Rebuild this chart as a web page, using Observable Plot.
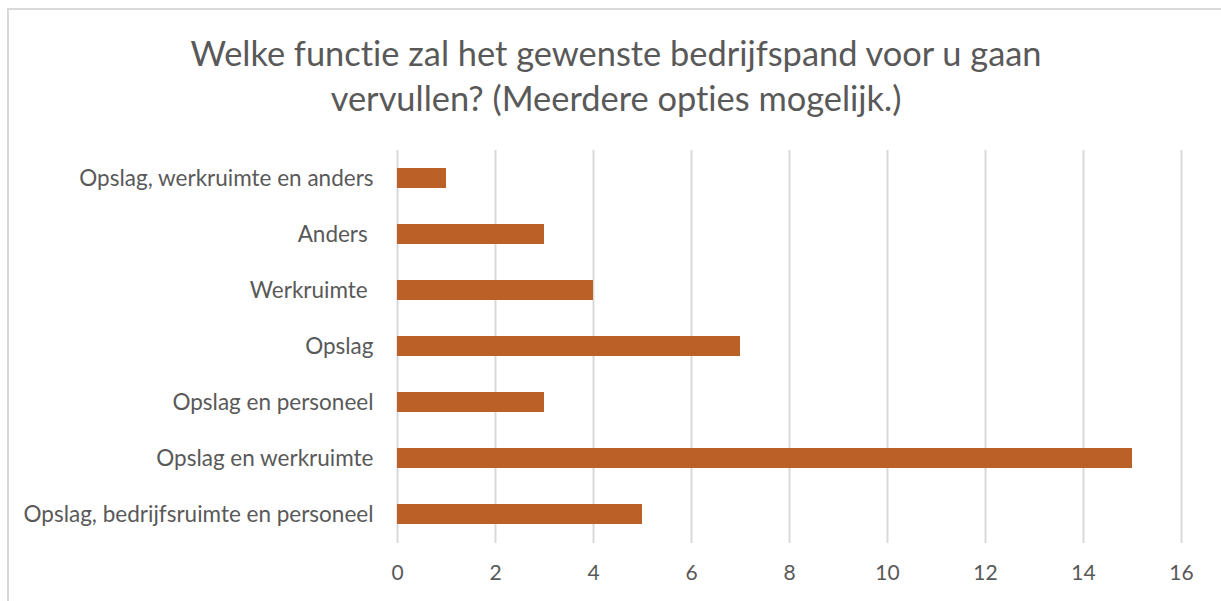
<!DOCTYPE html>
<html>
<head>
<meta charset="utf-8">
<script src="https://cdn.jsdelivr.net/npm/d3@7"></script>
<script src="https://cdn.jsdelivr.net/npm/@observablehq/plot@0.6"></script>
<style>
  html, body { margin: 0; padding: 0; background: #fff; width: 1221px; height: 601px; overflow: hidden; font-variant-ligatures: none; }
  #frame { position: absolute; left: 7px; top: 8px; width: 1240px; height: 640px; border: 2px solid #d9d9d9; box-sizing: border-box; }
  #title { position: absolute; left: 0; top: 30px; width: 1232px; text-align: center; font-family: Lato, "Open Sans", sans-serif; font-size: 34.4px; line-height: 45px; color: #595959; font-variant-ligatures: none; }
  #chart { position: absolute; left: 0; top: 130px; }
  #chart svg text { font-variant-ligatures: none; }
</style>
</head>
<body>
<div id="frame"></div>
<div id="title">Welke functie zal het gewenste bedrijfspand voor u gaan<br>vervullen? (Meerdere opties mogelijk.)</div>
<div id="chart"></div>
<script>
const categories = [
  "Opslag, werkruimte en anders",
  "Anders ",
  "Werkruimte ",
  "Opslag",
  "Opslag en personeel",
  "Opslag en werkruimte",
  "Opslag, bedrijfsruimte en personeel"
];
const values = [1, 3, 4, 7, 3, 15, 5];
const xTicks = [0, 2, 4, 6, 8, 10, 12, 14, 16];

const data = categories.map((c, i) => ({category: c, value: values[i]}));

const chart = Plot.plot({
  width: 1221,
  height: 471,
  marginTop: 20,
  marginBottom: 58,
  marginLeft: 397,
  marginRight: 40,
  style: {fontFamily: "Lato, 'Open Sans', sans-serif", fontSize: "20px", color: "#595959", background: "transparent"},
  x: {domain: [0, 16], ticks: xTicks, label: null},
  y: {domain: categories, label: null, paddingInner: 0.64, paddingOuter: 0.3},
  marks: [
    Plot.gridX(xTicks, {stroke: "#d9d9d9", strokeOpacity: 1, strokeWidth: 2}),
    Plot.barX(data, {x: "value", y: "category", fill: "#BB6127"}),
    Plot.axisX({ticks: xTicks, tickSize: 0, tickPadding: 22, label: null, fontSize: 21}),
    Plot.axisY({tickSize: 0, tickPadding: 24, label: null, fontSize: 22.5})
  ]
});
document.getElementById("chart").appendChild(chart);
</script>
</body>
</html>
